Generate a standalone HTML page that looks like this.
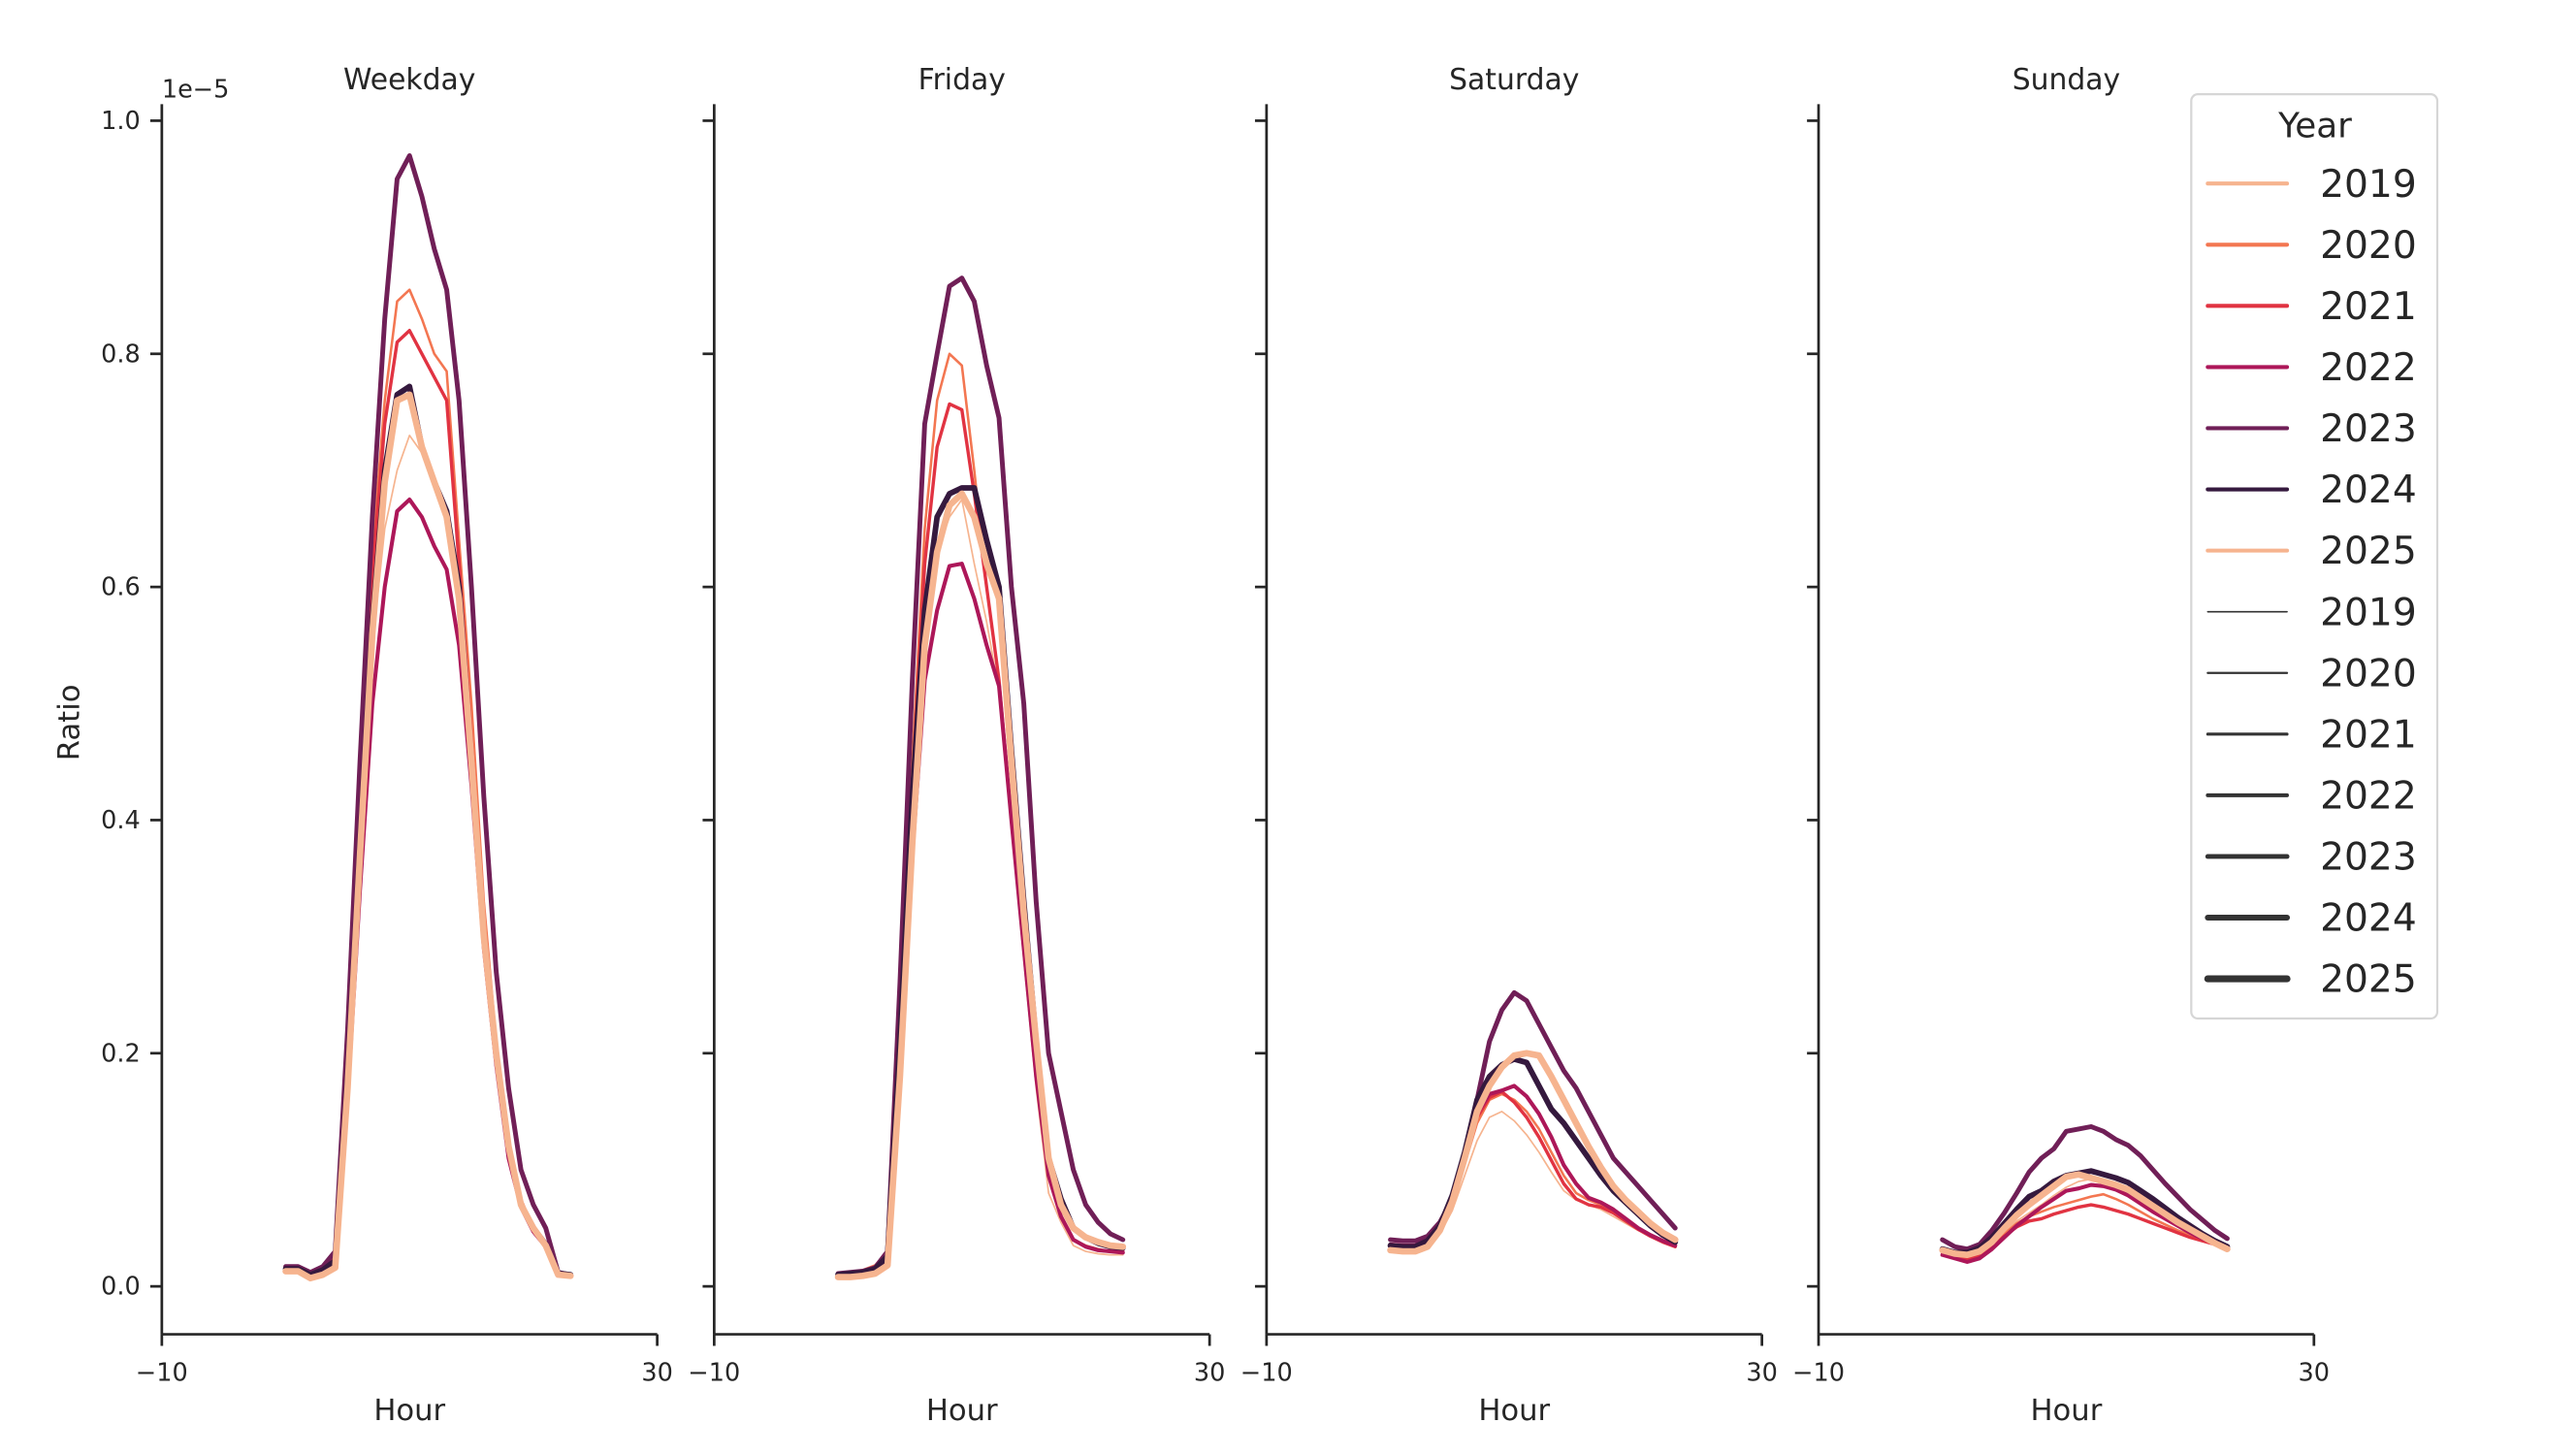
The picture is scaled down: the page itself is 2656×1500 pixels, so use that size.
<!DOCTYPE html>
<html><head><meta charset="utf-8"><style>
html,body{margin:0;padding:0;background:#fff;}
svg{display:block;font-family:"DejaVu Sans","Liberation Sans",sans-serif;}
</style></head><body>
<svg id="chart" width="2656" height="1500" viewBox="0 0 1560 880" preserveAspectRatio="none" xmlns="http://www.w3.org/2000/svg">
<g id="panels"></g>
<g id="legend"></g>
</svg>
<script>
const years = ["2019","2020","2021","2022","2023","2024","2025"];
const panelTitles = ["Weekday","Friday","Saturday","Sunday"];
const hours = [0,1,2,3,4,5,6,7,8,9,10,11,12,13,14,15,16,17,18,19,20,21,22,23];
const yTicks = [0.0,0.2,0.4,0.6,0.8,1.0];
const yTickLabels = ["0.0","0.2","0.4","0.6","0.8","1.0"];
const xTicks = [-10,30];
const xTickLabels = ["\u221210","30"];
// values in units of 1e-5
const weekday2019 = [0.013,0.013,0.007,0.01,0.02,0.17,0.36,0.55,0.65,0.70,0.73,0.715,0.69,0.665,0.60,0.45,0.30,0.20,0.12,0.07,0.05,0.035,0.01,0.009];
const weekday2020 = [0.015,0.015,0.01,0.014,0.025,0.20,0.42,0.63,0.76,0.845,0.855,0.83,0.80,0.785,0.64,0.50,0.33,0.21,0.12,0.075,0.05,0.038,0.012,0.01];
const weekday2021 = [0.015,0.015,0.01,0.014,0.025,0.19,0.40,0.61,0.74,0.81,0.82,0.80,0.78,0.76,0.62,0.47,0.31,0.20,0.115,0.072,0.048,0.036,0.012,0.01];
const weekday2022 = [0.014,0.014,0.009,0.012,0.02,0.16,0.34,0.50,0.60,0.665,0.675,0.66,0.635,0.615,0.55,0.43,0.29,0.19,0.11,0.068,0.047,0.034,0.011,0.009];
const weekday2023 = [0.017,0.017,0.012,0.017,0.03,0.22,0.45,0.66,0.83,0.95,0.97,0.935,0.89,0.855,0.76,0.60,0.42,0.27,0.17,0.10,0.07,0.05,0.012,0.01];
const weekday2024 = [0.015,0.015,0.01,0.014,0.022,0.18,0.38,0.57,0.70,0.765,0.772,0.72,0.69,0.665,0.60,0.45,0.30,0.20,0.12,0.07,0.05,0.036,0.011,0.01];
const weekday2025 = [0.013,0.013,0.007,0.01,0.016,0.17,0.37,0.56,0.69,0.76,0.765,0.72,0.69,0.66,0.59,0.45,0.30,0.20,0.12,0.07,0.05,0.035,0.01,0.009];
const friday2019 = [0.008,0.008,0.009,0.011,0.02,0.17,0.36,0.54,0.63,0.66,0.675,0.62,0.57,0.51,0.40,0.28,0.17,0.08,0.055,0.035,0.03,0.028,0.027,0.027];
const friday2020 = [0.011,0.012,0.014,0.018,0.03,0.22,0.45,0.65,0.76,0.80,0.79,0.70,0.60,0.52,0.40,0.30,0.19,0.10,0.06,0.04,0.035,0.032,0.03,0.03];
const friday2021 = [0.01,0.011,0.013,0.017,0.028,0.21,0.43,0.62,0.72,0.757,0.752,0.68,0.60,0.52,0.40,0.29,0.18,0.095,0.06,0.04,0.034,0.031,0.03,0.03];
const friday2022 = [0.009,0.01,0.011,0.014,0.024,0.18,0.37,0.52,0.58,0.618,0.62,0.59,0.55,0.515,0.40,0.29,0.18,0.095,0.06,0.04,0.034,0.031,0.03,0.029];
const friday2023 = [0.011,0.012,0.013,0.016,0.03,0.26,0.52,0.74,0.80,0.858,0.865,0.845,0.79,0.745,0.60,0.50,0.33,0.20,0.15,0.10,0.07,0.055,0.045,0.04];
const friday2024 = [0.01,0.011,0.012,0.015,0.026,0.21,0.42,0.58,0.66,0.68,0.685,0.685,0.64,0.60,0.46,0.33,0.21,0.11,0.075,0.05,0.042,0.037,0.034,0.033];
const friday2025 = [0.008,0.008,0.009,0.011,0.018,0.18,0.38,0.55,0.63,0.67,0.68,0.66,0.62,0.59,0.45,0.32,0.21,0.11,0.07,0.05,0.042,0.038,0.035,0.034];
const saturday2019 = [0.032,0.031,0.031,0.035,0.045,0.065,0.095,0.125,0.145,0.15,0.142,0.13,0.115,0.098,0.082,0.074,0.07,0.066,0.06,0.054,0.048,0.043,0.038,0.034];
const saturday2020 = [0.034,0.033,0.033,0.037,0.048,0.07,0.105,0.14,0.16,0.165,0.16,0.15,0.135,0.115,0.095,0.08,0.074,0.07,0.064,0.057,0.05,0.044,0.039,0.035];
const saturday2021 = [0.035,0.034,0.034,0.038,0.05,0.072,0.108,0.145,0.162,0.167,0.158,0.145,0.128,0.108,0.088,0.075,0.07,0.068,0.063,0.056,0.049,0.043,0.038,0.034];
const saturday2022 = [0.036,0.035,0.035,0.04,0.052,0.075,0.11,0.148,0.165,0.168,0.172,0.163,0.148,0.128,0.104,0.088,0.076,0.072,0.066,0.058,0.05,0.044,0.039,0.035];
const saturday2023 = [0.04,0.039,0.039,0.043,0.055,0.075,0.11,0.16,0.21,0.237,0.252,0.245,0.225,0.205,0.185,0.17,0.15,0.13,0.11,0.098,0.086,0.074,0.062,0.05];
const saturday2024 = [0.035,0.034,0.034,0.039,0.052,0.078,0.115,0.16,0.18,0.19,0.195,0.192,0.172,0.152,0.14,0.125,0.11,0.095,0.082,0.072,0.062,0.052,0.044,0.038];
const saturday2025 = [0.031,0.03,0.03,0.034,0.048,0.073,0.11,0.15,0.172,0.188,0.198,0.2,0.198,0.18,0.16,0.14,0.12,0.102,0.086,0.074,0.064,0.054,0.046,0.04];
const sunday2019 = [0.03,0.028,0.027,0.029,0.036,0.046,0.056,0.063,0.07,0.078,0.085,0.09,0.092,0.09,0.085,0.078,0.07,0.063,0.057,0.051,0.046,0.041,0.037,0.033];
const sunday2020 = [0.029,0.026,0.025,0.028,0.036,0.045,0.054,0.06,0.064,0.068,0.071,0.074,0.077,0.079,0.075,0.07,0.064,0.058,0.053,0.048,0.044,0.04,0.036,0.033];
const sunday2021 = [0.028,0.025,0.023,0.026,0.034,0.043,0.051,0.056,0.058,0.062,0.065,0.068,0.07,0.068,0.065,0.062,0.058,0.054,0.05,0.046,0.042,0.039,0.036,0.033];
const sunday2022 = [0.027,0.024,0.021,0.024,0.032,0.042,0.052,0.06,0.068,0.075,0.082,0.084,0.087,0.086,0.083,0.078,0.071,0.064,0.058,0.052,0.046,0.041,0.037,0.033];
const sunday2023 = [0.04,0.034,0.032,0.036,0.048,0.063,0.08,0.098,0.11,0.118,0.133,0.135,0.137,0.133,0.126,0.121,0.112,0.1,0.088,0.077,0.066,0.057,0.048,0.041];
const sunday2024 = [0.032,0.029,0.029,0.033,0.042,0.054,0.066,0.077,0.082,0.09,0.095,0.097,0.099,0.096,0.093,0.089,0.082,0.075,0.067,0.059,0.052,0.045,0.039,0.034];
const sunday2025 = [0.031,0.028,0.027,0.03,0.038,0.05,0.061,0.07,0.078,0.086,0.094,0.096,0.093,0.09,0.087,0.083,0.076,0.069,0.062,0.055,0.049,0.043,0.037,0.032];
const seriesByPanel = [
  [weekday2019,weekday2020,weekday2021,weekday2022,weekday2023,weekday2024,weekday2025],
  [friday2019,friday2020,friday2021,friday2022,friday2023,friday2024,friday2025],
  [saturday2019,saturday2020,saturday2021,saturday2022,saturday2023,saturday2024,saturday2025],
  [sunday2019,sunday2020,sunday2021,sunday2022,sunday2023,sunday2024,sunday2025]
];
const colors = ["#f6b48f","#f37651","#e13342","#ad1759","#701f57","#35193e","#f6b48f"];
const widths = [1.0,1.5,2.0,2.4,2.9,3.4,3.9];

const NS = "http://www.w3.org/2000/svg";
function mk(tag, attrs, parent){const e=document.createElementNS(NS,tag);for(const k in attrs)e.setAttribute(k,attrs[k]);parent.appendChild(e);return e;}
const panelLeft = [98,432.5,767,1101.3];
const panelW = 300;
const yTop = 63, yBottom = 807;
function xScale(p,h){return panelLeft[p] + (h - (-10)) / 40 * panelW;}
function yScale(v){return 778 - v * 705;}
const panelsG = document.getElementById('panels');
const txt = "#262626";

for (let p=0;p<4;p++){
  const g = mk('g',{},panelsG);
  
  
  const t = mk('text',{x:xScale(p,10),y:54,'text-anchor':'middle','font-size':17.5,fill:txt},g);
  t.textContent = panelTitles[p];
  
  
  // spines
  const ys = mk('line',{x1:panelLeft[p],x2:panelLeft[p],y1:yTop,y2:yBottom,stroke:'#262626','stroke-width':1.6},g);
  
  
  const xs = mk('line',{x1:panelLeft[p],x2:panelLeft[p]+panelW,y1:yBottom,y2:yBottom,stroke:'#262626','stroke-width':1.6},g);
  
  
  yTicks.forEach((v,i)=>{
    const tk = mk('line',{x1:panelLeft[p]-7,x2:panelLeft[p],y1:yScale(v),y2:yScale(v),stroke:'#262626','stroke-width':1.6},g);
    
    
    if (p===0){
      const tl = mk('text',{x:panelLeft[p]-13,y:yScale(v)+5,'text-anchor':'end','font-size':15,fill:txt},g);
      tl.textContent = yTickLabels[i];
      
      
    }
  });
  xTicks.forEach((v,i)=>{
    const tk = mk('line',{x1:xScale(p,v),x2:xScale(p,v),y1:yBottom,y2:yBottom+7,stroke:'#262626','stroke-width':1.6},g);
    
    
    const tl = mk('text',{x:xScale(p,v),y:yBottom+28,'text-anchor':'middle','font-size':15,fill:txt},g);
    tl.textContent = xTickLabels[i];
    
    
  });
  const xl = mk('text',{x:xScale(p,10),y:859,'text-anchor':'middle','font-size':18,fill:txt},g);
  xl.textContent = 'Hour';
  
  
  seriesByPanel[p].forEach((arr,k)=>{
    const d = arr.map((v,i)=>(i?'L':'M')+xScale(p,hours[i]).toFixed(2)+','+yScale(v).toFixed(2)).join(' ');
    const path = mk('path',{d:d,fill:'none',stroke:colors[k],'stroke-width':widths[k],'stroke-linejoin':'round','stroke-linecap':'round'},g);
    
    
  });
}
const svg = document.getElementById('chart');
const off = mk('text',{x:98,y:59,'font-size':15,fill:txt},svg);
off.textContent = '1e\u22125';


const yl = mk('text',{x:48,y:437,'text-anchor':'middle','font-size':18,fill:txt,transform:'rotate(-90 48 437)'},svg);
yl.textContent = 'Ratio';



// legend
const lg = document.getElementById('legend');
const box = mk('rect',{x:1327,y:57,width:149,height:559,rx:4,fill:'#fff',stroke:'#d6d6d6','stroke-width':1.3},lg);


const lt = mk('text',{x:1402,y:83,'text-anchor':'middle','font-size':21,fill:txt},lg);
lt.textContent = 'Year';


const legendWidths = [0.9,1.3,1.8,2.3,2.9,3.5,4.2];
for (let i=0;i<14;i++){
  const y = 111 + i*37;
  const isColor = i<7;
  const k = i%7;
  const eg = mk('g',{},lg);
  
  
  mk('line',{x1:1337,x2:1385,y1:y,y2:y,stroke:isColor?colors[k]:'#333','stroke-width':isColor?2.4:legendWidths[k],'stroke-linecap':'round'},eg);
  const et = mk('text',{x:1405,y:y+8,'font-size':23,fill:txt},eg);
  et.textContent = years[k];
}
</script>
</body></html>
